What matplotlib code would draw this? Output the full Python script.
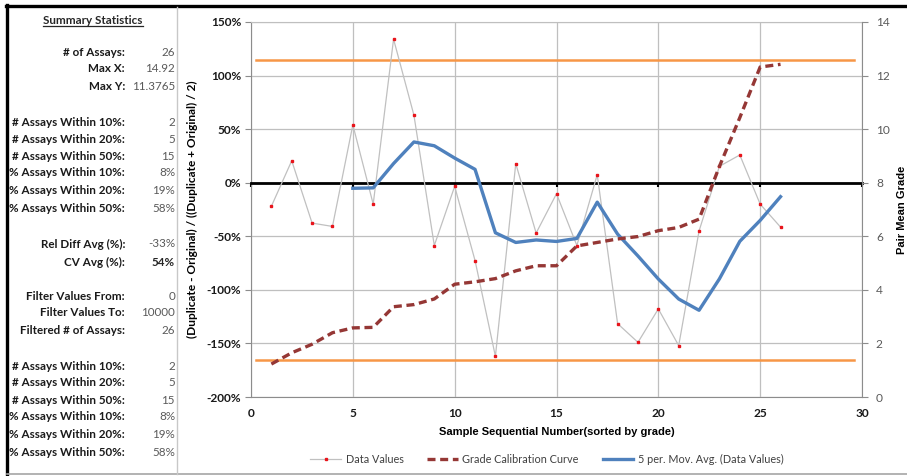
import numpy as np
import pandas as pd
import matplotlib
matplotlib.use("Agg")
import matplotlib.pyplot as plt
from matplotlib.lines import Line2D
from matplotlib.ticker import FuncFormatter, MultipleLocator

# ---- data -------------------------------------------------------------
sample_no = list(range(1, 27))
rel_diff_pct = [-22, 20.5, -37.7, -40.8, 54, -20, 134, 63, -58.6, -3.4,
                -72.6, -162, 17.8, -47, -10.3, -58.6, 7.5, -131.5, -149, -117.8,
                -152, -45, 15.3, 25.9, -20, -41.4]
pair_mean_grade = [1.23, 1.65, 1.97, 2.40, 2.58, 2.60, 3.37, 3.45, 3.66, 4.21,
                   4.30, 4.42, 4.71, 4.90, 4.90, 5.64, 5.77, 5.90, 5.99, 6.21,
                   6.33, 6.64, 8.61, 10.43, 12.32, 12.42]
upper_limit_pct = 115
lower_limit_pct = -165
limit_x = [0.25, 29.6]
mov_avg_period = 5

x_ticks = [0, 5, 10, 15, 20, 25, 30]
left_ticks = [-200, -150, -100, -50, 0, 50, 100, 150]
right_ticks = [0, 2, 4, 6, 8, 10, 12, 14]

stats_rows = [
    ("# of Assays:", "26", False),
    ("Max X:", "14.92", False),
    ("Max Y:", "11.3765", False),
    ("# Assays Within 10%:", "2", False),
    ("# Assays Within 20%:", "5", False),
    ("# Assays Within 50%:", "15", False),
    ("% Assays Within 10%:", "8%", False),
    ("% Assays Within 20%:", "19%", False),
    ("% Assays Within 50%:", "58%", False),
    ("Rel Diff Avg (%):", "-33%", False),
    ("CV Avg (%):", "54%", True),
    ("Filter Values From:", "0", False),
    ("Filter Values To:", "10000", False),
    ("Filtered # of Assays:", "26", False),
    ("# Assays Within 10%:", "2", False),
    ("# Assays Within 20%:", "5", False),
    ("# Assays Within 50%:", "15", False),
    ("% Assays Within 10%:", "8%", False),
    ("% Assays Within 20%:", "19%", False),
    ("% Assays Within 50%:", "58%", False),
]
stats_y_px = [52, 69, 86, 122, 139, 156, 173, 191, 208, 244, 262,
              296, 313, 331, 366, 383, 400, 417, 435, 452]

# ---- figure -----------------------------------------------------------
W, H = 907, 476
fig = plt.figure(figsize=(W / 100, H / 100), dpi=100)
fig.patch.set_facecolor("white")

def fx(px):
    return px / W

def fy(py):
    return 1 - py / H

# outer frame and panel divider
fig.add_artist(Line2D([fx(6), fx(907)], [fy(6), fy(6)], color="black", lw=2.4))
fig.add_artist(Line2D([fx(7), fx(7)], [fy(5), fy(475)], color="black", lw=2.4))
fig.add_artist(Line2D([fx(7), fx(907)], [fy(474), fy(474)], color="#a6a6a6", lw=1.2))
fig.add_artist(Line2D([fx(177), fx(177)], [fy(7), fy(474)], color="#c8c8c8", lw=1.0))

# ---- summary statistics panel ----------------------------------------
stat_font = "Lato"
stat_size = 8.4
title = fig.text(fx(93), fy(20), "Summary Statistics", ha="center", va="center",
                 fontsize=stat_size, fontweight="bold", family=stat_font, color="#262626")
fig.canvas.draw()
bb = title.get_window_extent(fig.canvas.get_renderer())
fig.add_artist(Line2D([bb.x0 / W, bb.x1 / W], [(bb.y0 - 0.5) / H] * 2,
                      color="#262626", lw=0.9))

for (label, value, bold_val), ypx in zip(stats_rows, stats_y_px):
    fig.text(fx(125), fy(ypx), label, ha="right", va="center", fontsize=stat_size,
             fontweight="bold", family=stat_font, color="#1a1a1a")
    fig.text(fx(175), fy(ypx), value, ha="right", va="center", fontsize=stat_size,
             fontweight="bold" if bold_val else "normal", family=stat_font,
             color="#262626" if bold_val else "#595959")

# ---- chart ------------------------------------------------------------
ax = fig.add_axes([fx(251), fy(397), fx(862) - fx(251), fy(22) - fy(397)])
ax2 = ax.twinx()

ax.set_xlim(0, 30)
ax.set_ylim(-200, 150)
ax2.set_ylim(0, 14)

grid_c = "#bfbfbf"
ax.set_axisbelow(True)
ax.xaxis.set_major_locator(MultipleLocator(5))
ax.yaxis.set_major_locator(MultipleLocator(50))
ax.grid(True, color=grid_c, lw=0.9)

# horizontal axis crosses at 0 %
ax.spines["bottom"].set_position(("data", 0))
ax.spines["bottom"].set_color("black")
ax.spines["bottom"].set_linewidth(2.0)
ax.spines["bottom"].set_zorder(3)
ax.tick_params(axis="x", direction="out", length=3, width=1.5, color="black",
               labelbottom=False)
ax.spines["top"].set_color(grid_c)
ax.spines["left"].set_color("#8c8c8c")
ax.spines["right"].set_visible(False)
ax2.spines["left"].set_visible(False)
ax2.spines["top"].set_visible(False)
ax2.spines["bottom"].set_visible(False)
ax2.spines["right"].set_color("#8c8c8c")

# category labels along the bottom edge
sec = ax.secondary_xaxis(0.0)
sec.set_xticks(x_ticks)
sec.tick_params(length=0, pad=8)
sec.spines["bottom"].set_color("#8c8c8c")
for t in sec.get_xticklabels():
    t.set_fontweight("bold")
    t.set_fontsize(8.6)
    t.set_family(stat_font)
    t.set_color("#1a1a1a")
sec.set_xlabel("Sample Sequential Number(sorted by grade)", fontsize=8,
               fontweight="bold", family="Liberation Sans", labelpad=6)

ax.set_yticks(left_ticks)
ax.yaxis.set_major_formatter(FuncFormatter(lambda v, p: f"{v:.0f}%"))
ax.tick_params(axis="y", direction="out", length=4, color="#8c8c8c", pad=3)
for t in ax.get_yticklabels():
    t.set_fontweight("bold")
    t.set_fontsize(8.6)
    t.set_family(stat_font)
    t.set_color("#1a1a1a")
ax.set_ylabel("(Duplicate - Original) / ((Duplicate + Original) / 2)",
              fontsize=8.6, fontweight="bold", family=stat_font, labelpad=6)

ax2.set_yticks(right_ticks)
ax2.tick_params(axis="y", direction="out", length=4, color="#8c8c8c", pad=6,
                labelsize=8.6, labelcolor="#595959")
for t in ax2.get_yticklabels():
    t.set_family(stat_font)
ax2.set_ylabel("Pair Mean Grade", fontsize=8, fontweight="bold",
               family="Liberation Sans", labelpad=5)

# control limits
ax.plot(limit_x, [upper_limit_pct] * 2, color="#f79646", lw=1.8, zorder=2)
ax.plot(limit_x, [lower_limit_pct] * 2, color="#f79646", lw=1.8, zorder=2)

# relative differences
data_line, = ax.plot(sample_no, rel_diff_pct, color="#c0c0c0", lw=0.9,
                     marker="s", ms=1.8, mfc="#e8141b", mec="#e8141b", zorder=4,
                     label="Data Values")

# moving average of the relative differences
mov_avg = pd.Series(rel_diff_pct, index=sample_no).rolling(mov_avg_period).mean()
avg_line, = ax.plot(mov_avg.index, mov_avg.values, color="#4f81bd", lw=2.4,
                    zorder=5, label="5 per. Mov. Avg. (Data Values)")

# grade calibration curve on the secondary axis
ax2.patch.set_visible(False)
curve_line, = ax2.plot(sample_no, pair_mean_grade, color="#953735", lw=2.4,
                       dashes=(2.4, 1.4), zorder=6, label="Grade Calibration Curve")

leg = fig.legend(handles=[data_line, curve_line, avg_line], loc="center",
                 bbox_to_anchor=(fx(547), fy(459)), ncol=3, frameon=False,
                 prop={"family": stat_font, "size": 7.8}, handlelength=2.8,
                 columnspacing=2.2, handletextpad=0.45)
for t in leg.get_texts():
    t.set_color("#404040")

fig.savefig("out.png", dpi=100)
